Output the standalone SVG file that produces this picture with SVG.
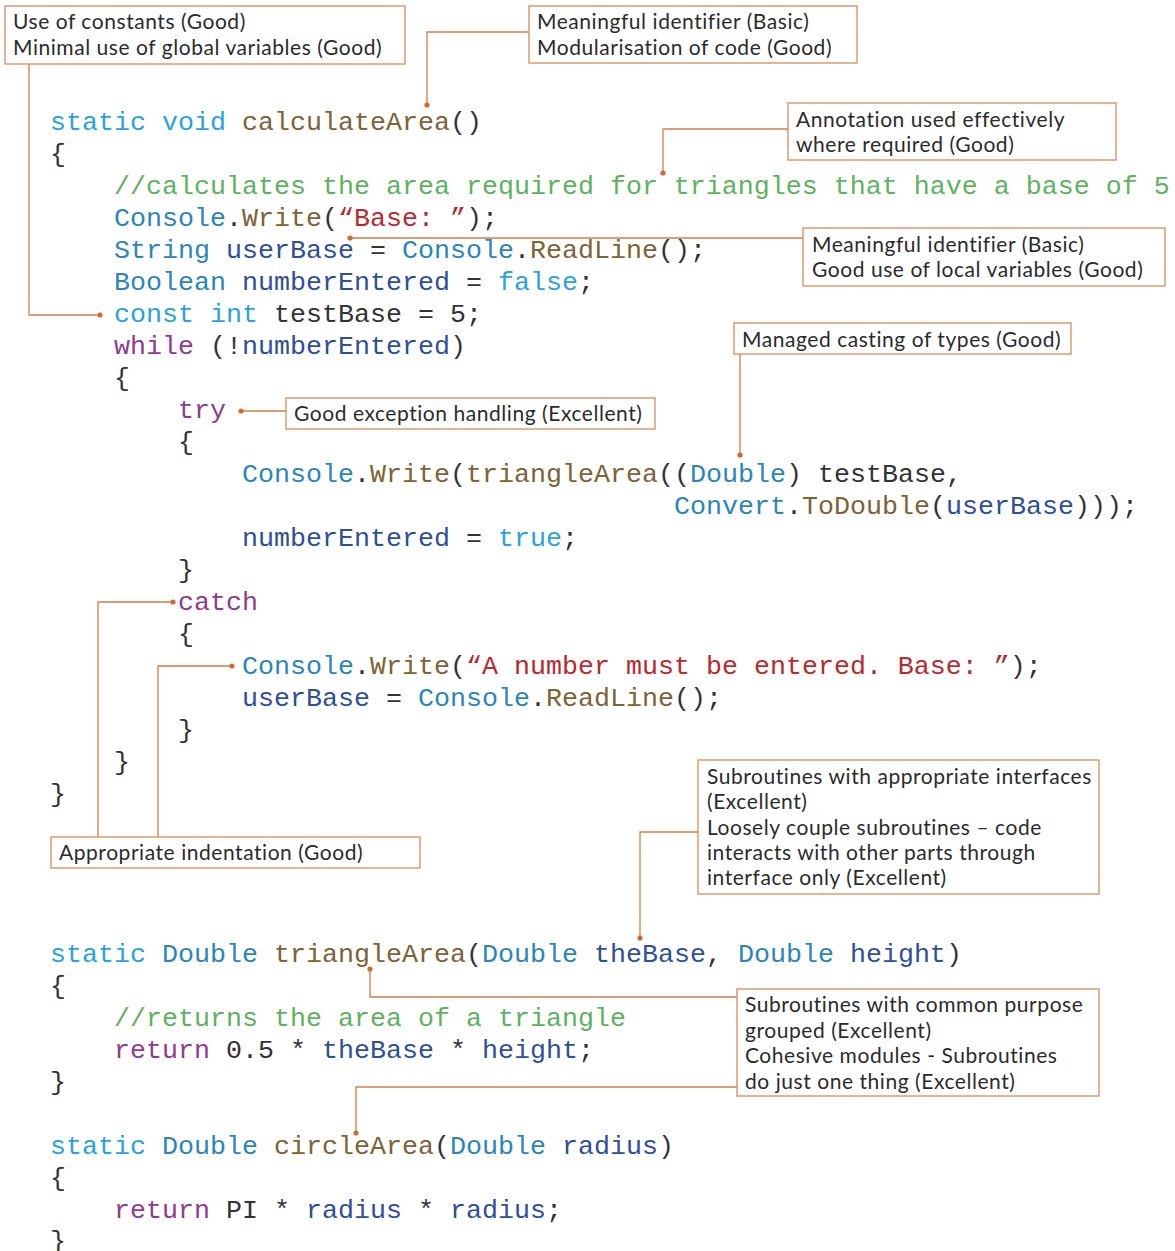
<svg xmlns="http://www.w3.org/2000/svg" width="1175" height="1251" viewBox="0 0 1175 1251">
<style>
.code{font-family:"Liberation Mono","Courier New",monospace;font-size:26.67px;fill:#333;white-space:pre}
.kw{fill:#29a3dd}.ty{fill:#2b86b8}.va{fill:#2f4f96}.fn{fill:#7d6335}.st{fill:#b9292f}.cm{fill:#5db35d}.pk{fill:#8f3b8f}
.box{fill:#fff;stroke:#d98a5a;stroke-width:1.3}
.lbl{font-family:Lato,"Open Sans",sans-serif;font-size:21px;letter-spacing:0.55px;fill:#2b2b2b}
.con{fill:none;stroke:#d97b45;stroke-width:1.3}
.dot{fill:#d06a30}
</style>
<rect width="1175" height="1251" fill="#fff"/>
<g id="code">
<text class="code" x="50" y="130"><tspan class="kw">static void</tspan> <tspan class="fn">calculateArea</tspan>()</text>
<text class="code" x="50" y="162">{</text>
<text class="code cm" x="114" y="194">//calculates the area required for triangles that have a base of 5</text>
<text class="code" x="114" y="226"><tspan class="ty">Console</tspan>.<tspan class="fn">Write</tspan>(<tspan class="st">“Base: ”</tspan>);</text>
<text class="code" x="114" y="258"><tspan class="ty">String</tspan> <tspan class="va">userBase</tspan> = <tspan class="ty">Console</tspan>.<tspan class="fn">ReadLine</tspan>();</text>
<text class="code" x="114" y="290"><tspan class="ty">Boolean</tspan> <tspan class="va">numberEntered</tspan> = <tspan class="kw">false</tspan>;</text>
<text class="code" x="114" y="322"><tspan class="kw">const int</tspan> testBase = 5;</text>
<text class="code" x="114" y="354"><tspan class="pk">while</tspan> (!<tspan class="va">numberEntered</tspan>)</text>
<text class="code" x="114" y="386">{</text>
<text class="code pk" x="178" y="418">try</text>
<text class="code" x="178" y="450">{</text>
<text class="code" x="242" y="482"><tspan class="ty">Console</tspan>.<tspan class="fn">Write</tspan>(<tspan class="fn">triangleArea</tspan>((<tspan class="ty">Double</tspan>) testBase,</text>
<text class="code" x="674" y="514"><tspan class="ty">Convert</tspan>.<tspan class="fn">ToDouble</tspan>(<tspan class="va">userBase</tspan>)));</text>
<text class="code" x="242" y="546"><tspan class="va">numberEntered</tspan> = <tspan class="kw">true</tspan>;</text>
<text class="code" x="178" y="578">}</text>
<text class="code pk" x="178" y="610">catch</text>
<text class="code" x="178" y="642">{</text>
<text class="code" x="242" y="674"><tspan class="ty">Console</tspan>.<tspan class="fn">Write</tspan>(<tspan class="st">“A number must be entered. Base: ”</tspan>);</text>
<text class="code" x="242" y="706"><tspan class="va">userBase</tspan> = <tspan class="ty">Console</tspan>.<tspan class="fn">ReadLine</tspan>();</text>
<text class="code" x="178" y="738">}</text>
<text class="code" x="114" y="770">}</text>
<text class="code" x="50" y="802">}</text>
<text class="code" x="50" y="962"><tspan class="kw">static</tspan> <tspan class="ty">Double</tspan> <tspan class="fn">triangleArea</tspan>(<tspan class="ty">Double</tspan> <tspan class="va">theBase</tspan>, <tspan class="ty">Double</tspan> <tspan class="va">height</tspan>)</text>
<text class="code" x="50" y="994">{</text>
<text class="code cm" x="114" y="1026">//returns the area of a triangle</text>
<text class="code" x="114" y="1058"><tspan class="pk">return</tspan> 0.5 * <tspan class="va">theBase</tspan> * <tspan class="va">height</tspan>;</text>
<text class="code" x="50" y="1090">}</text>
<text class="code" x="50" y="1154"><tspan class="kw">static</tspan> <tspan class="ty">Double</tspan> <tspan class="fn">circleArea</tspan>(<tspan class="ty">Double</tspan> <tspan class="va">radius</tspan>)</text>
<text class="code" x="50" y="1186">{</text>
<text class="code" x="114" y="1218"><tspan class="pk">return</tspan> PI * <tspan class="va">radius</tspan> * <tspan class="va">radius</tspan>;</text>
<text class="code" x="50" y="1249">}</text>
</g>
<g id="connectors">
<path class="con" d="M29,64 V315 H100"/><circle class="dot" cx="100" cy="315" r="2.6"/>
<path class="con" d="M529,32 H427 V105"/><circle class="dot" cx="427" cy="105" r="2.6"/>
<path class="con" d="M788,129 H663 V173"/><circle class="dot" cx="663" cy="173" r="2.6"/>
<path class="con" d="M803,238 H350"/><circle class="dot" cx="350" cy="238" r="2.6"/>
<path class="con" d="M740,354 V455"/><circle class="dot" cx="740" cy="455" r="2.6"/>
<path class="con" d="M286,411 H241"/><circle class="dot" cx="241" cy="411" r="2.6"/>
<path class="con" d="M98,837 V602 H173"/><circle class="dot" cx="173" cy="602" r="2.6"/>
<path class="con" d="M158,837 V666 H232"/><circle class="dot" cx="232" cy="666" r="2.6"/>
<path class="con" d="M698,832 H640 V938"/><circle class="dot" cx="640" cy="938" r="2.6"/>
<path class="con" d="M737,997 H370 V969"/><circle class="dot" cx="370" cy="969" r="2.6"/>
<path class="con" d="M737,1087 H356 V1133"/><circle class="dot" cx="356" cy="1133" r="2.6"/>
</g>
<g id="n1"><rect class="box" x="5" y="6" width="400" height="58"/>
<text class="lbl" x="13" y="29">Use of constants (Good)</text><text class="lbl" x="13" y="55">Minimal use of global variables (Good)</text></g>
<g id="n2"><rect class="box" x="529" y="6" width="328" height="57"/>
<text class="lbl" x="537" y="29">Meaningful identifier (Basic)</text><text class="lbl" x="537" y="55">Modularisation of code (Good)</text></g>
<g id="n3"><rect class="box" x="788" y="103" width="328" height="57"/>
<text class="lbl" x="796" y="127">Annotation used effectively</text><text class="lbl" x="796" y="152">where required (Good)</text></g>
<g id="n4"><rect class="box" x="803" y="228" width="362" height="58"/>
<text class="lbl" x="812" y="252">Meaningful identifier (Basic)</text><text class="lbl" x="812" y="277">Good use of local variables (Good)</text></g>
<g id="n5"><rect class="box" x="734" y="323" width="337" height="31"/>
<text class="lbl" x="742" y="347">Managed casting of types (Good)</text></g>
<g id="n6"><rect class="box" x="286" y="398" width="369" height="31"/>
<text class="lbl" x="294" y="421">Good exception handling (Excellent)</text></g>
<g id="n7"><rect class="box" x="51" y="837" width="369" height="31"/>
<text class="lbl" x="59" y="860">Appropriate indentation (Good)</text></g>
<g id="n8"><rect class="box" x="698" y="760" width="401" height="134"/>
<text class="lbl" x="707" y="784">Subroutines with appropriate interfaces</text>
<text class="lbl" x="707" y="809">(Excellent)</text>
<text class="lbl" x="707" y="835">Loosely couple subroutines – code</text>
<text class="lbl" x="707" y="860">interacts with other parts through</text>
<text class="lbl" x="707" y="885">interface only (Excellent)</text></g>
<g id="n9"><rect class="box" x="737" y="989" width="362" height="107"/>
<text class="lbl" x="745" y="1012">Subroutines with common purpose</text>
<text class="lbl" x="745" y="1038">grouped (Excellent)</text>
<text class="lbl" x="745" y="1063">Cohesive modules - Subroutines</text>
<text class="lbl" x="745" y="1089">do just one thing (Excellent)</text></g>
</svg>
